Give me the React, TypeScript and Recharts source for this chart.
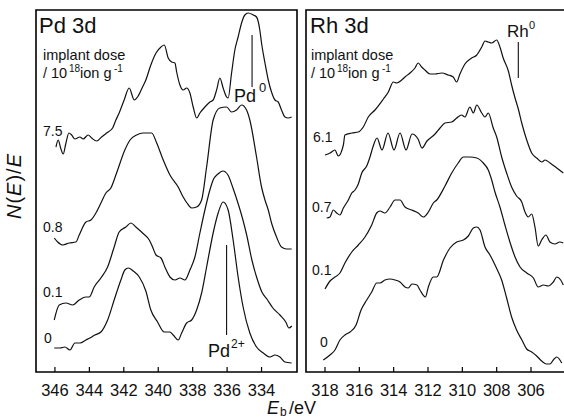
import React from "react";
import { LineChart, Line, XAxis, YAxis, ReferenceArea, ReferenceLine } from "recharts";

// ---- Pd 3d panel: [binding energy eV, N(E)/E arbitrary units] ----
const pdTicks = [346, 344, 342, 340, 338, 336, 334];
const pdDose = ["7.5", "0.8", "0.1", "0"];

const pd75: [number, number][] = [
  [345.94, 225], [345.81, 232], [345.67, 224], [345.52, 218], [345.36, 229], [345.19, 239], [345.03, 237],
  [344.84, 233], [344.55, 235], [344.36, 233], [344.07, 237], [343.87, 234], [343.58, 231], [343.29, 235],
  [343.0, 239], [342.65, 244], [342.46, 252], [342.27, 259], [341.98, 272], [341.69, 284], [341.39, 272],
  [341.2, 275], [340.91, 285], [340.72, 292], [340.43, 307], [340.13, 319], [339.84, 325], [339.65, 327],
  [339.42, 314], [339.22, 310], [339.03, 309], [338.93, 300], [338.74, 287], [338.55, 282], [338.35, 284],
  [338.16, 279], [337.97, 265], [337.77, 254], [337.58, 259], [337.29, 265], [337.0, 270], [336.81, 272],
  [336.61, 282], [336.42, 294], [336.23, 284], [336.03, 275], [335.94, 274], [335.74, 299], [335.55, 322],
  [335.36, 335], [335.16, 349], [334.97, 357], [334.77, 359], [334.48, 357], [334.29, 355], [334.1, 342],
  [334.0, 329], [333.8, 309], [333.61, 292], [333.42, 280], [333.22, 272], [333.03, 270], [332.84, 262],
  [332.64, 255], [332.45, 254], [332.25, 255],
];
const pd08: [number, number][] = [
  [346.04, 134], [345.84, 130], [345.55, 127], [345.17, 129], [344.78, 130], [344.59, 137], [344.2, 150],
  [343.91, 152], [343.62, 159], [343.33, 169], [343.04, 179], [342.75, 184], [342.42, 199], [341.94, 222],
  [341.64, 232], [341.26, 237], [340.87, 239], [340.38, 239], [340.09, 229], [339.71, 212], [339.32, 197],
  [338.84, 185], [338.55, 175], [338.33, 169], [338.06, 164], [337.77, 165], [337.48, 172], [337.19, 205],
  [336.81, 252], [336.42, 264], [336.03, 265], [335.74, 260], [335.45, 262], [335.16, 267], [334.87, 262],
  [334.68, 252], [334.29, 215], [334.0, 185], [333.8, 172], [333.61, 162], [333.42, 149], [333.13, 135],
  [332.84, 125], [332.54, 123], [332.25, 123],
];
const pd01: [number, number][] = [
  [346.04, 52], [345.75, 67], [345.36, 69], [344.97, 67], [344.59, 72], [344.2, 75], [344.01, 75],
  [343.72, 85], [343.33, 94], [342.94, 105], [342.56, 125], [342.27, 140], [341.88, 145], [341.59, 149],
  [341.3, 145], [340.91, 139], [340.52, 132], [340.33, 125], [340.13, 117], [339.84, 114], [339.59, 104],
  [339.32, 95], [339.03, 92], [338.74, 94], [338.45, 92], [338.16, 102], [337.87, 115], [337.58, 139],
  [337.29, 162], [337.0, 182], [336.81, 192], [336.53, 198], [336.24, 201], [335.95, 197], [335.66, 184],
  [335.37, 169], [335.08, 152], [334.85, 136], [334.56, 112], [334.27, 94], [333.98, 80], [333.69, 73],
  [333.34, 64], [332.93, 57], [332.59, 50], [332.41, 44], [332.24, 46],
];
const pd0: [number, number][] = [
  [346.04, 24], [345.71, 24], [345.42, 25], [345.13, 22], [344.84, 29], [344.55, 29], [344.2, 32],
  [343.97, 34], [343.68, 37], [343.33, 40], [342.94, 52], [342.56, 72], [342.17, 92], [341.94, 102],
  [341.74, 104], [341.45, 101], [341.1, 95], [340.72, 81], [340.43, 62], [340.04, 50], [339.65, 40],
  [339.32, 40], [339.13, 37], [338.84, 32], [338.64, 39], [338.35, 49], [338.06, 52], [337.77, 62],
  [337.48, 79], [337.19, 105], [336.81, 139], [336.52, 159], [336.23, 170], [335.94, 162], [335.65, 132],
  [335.36, 95], [335.07, 65], [334.68, 39], [334.29, 25], [333.9, 19], [333.51, 15], [333.22, 17],
  [332.93, 15], [332.64, 10], [332.25, 9],
];

// ---- Rh 3d panel ----
const rhTicks = [318, 316, 314, 312, 310, 308, 306];
const rhDose = ["6.1", "0.7", "0.1", "0"];

const rh61: [number, number][] = [
  [318.0, 217], [317.71, 219], [317.42, 222], [317.23, 216], [316.93, 227], [316.84, 237], [316.44, 239],
  [316.06, 240], [315.77, 245], [315.48, 255], [315.09, 262], [314.6, 273], [314.31, 280], [314.02, 290],
  [313.82, 289], [313.53, 292], [313.34, 295], [313.05, 299], [312.76, 304], [312.57, 309], [312.37, 305],
  [312.18, 302], [311.88, 298], [311.59, 298], [311.2, 299], [310.82, 297], [310.53, 295], [310.33, 290],
  [310.14, 298], [309.85, 308], [309.46, 314], [309.16, 317], [308.87, 325], [308.68, 331], [308.49, 330],
  [308.29, 329], [308.0, 332], [307.81, 325], [307.62, 314], [307.32, 301], [307.13, 287], [306.93, 274],
  [306.74, 263], [306.54, 249], [306.25, 232], [305.96, 219], [305.67, 214], [305.37, 210], [305.18, 212],
  [304.89, 209], [304.5, 204], [304.12, 199],
];
const rh07: [number, number][] = [
  [317.9, 154], [317.71, 155], [317.52, 162], [317.32, 159], [317.13, 157], [316.93, 164], [316.64, 172],
  [316.44, 179], [316.25, 182], [316.06, 188], [315.86, 199], [315.57, 206], [315.38, 215], [315.19, 226],
  [314.97, 234], [314.68, 222], [314.33, 239], [313.98, 222], [313.63, 239], [313.28, 222], [312.93, 238],
  [312.58, 233], [312.35, 224], [312.06, 231], [311.59, 238], [311.3, 244], [311.01, 249], [310.62, 250],
  [310.33, 254], [310.04, 257], [309.85, 255], [309.56, 265], [309.36, 259], [309.16, 267], [308.87, 259],
  [308.68, 255], [308.49, 259], [308.2, 244], [308.0, 235], [307.71, 215], [307.42, 199], [307.13, 185],
  [306.84, 176], [306.54, 170], [306.35, 160], [306.16, 155], [305.96, 158], [305.77, 145], [305.58, 126],
  [305.38, 132], [305.13, 137], [304.9, 130], [304.61, 128], [304.32, 130], [304.12, 129],
];
const rh01: [number, number][] = [
  [318.0, 83], [317.71, 91], [317.42, 95], [317.13, 99], [316.84, 109], [316.44, 120], [316.06, 127],
  [315.67, 135], [315.28, 147], [314.99, 159], [314.8, 161], [314.51, 159], [314.21, 165], [313.92, 172],
  [313.63, 172], [313.34, 165], [312.95, 162], [312.57, 159], [312.27, 155], [311.98, 160], [311.69, 169],
  [311.49, 172], [311.01, 186], [310.62, 199], [310.24, 209], [309.94, 215], [309.56, 215], [309.16, 214],
  [308.78, 209], [308.49, 202], [308.29, 192], [308.1, 180], [307.81, 165], [307.52, 147], [307.23, 130],
  [306.93, 115], [306.64, 105], [306.25, 99], [305.86, 94], [305.58, 85], [305.28, 87], [304.99, 86],
  [304.7, 90], [304.5, 95], [304.27, 92], [304.12, 87],
];
const rh0: [number, number][] = [
  [318.1, 12], [317.71, 17], [317.42, 22], [317.13, 32], [316.84, 37], [316.54, 40], [316.19, 47],
  [315.9, 62], [315.57, 72], [315.28, 80], [314.99, 89], [314.8, 89], [314.51, 92], [314.21, 93],
  [313.92, 92], [313.63, 90], [313.34, 85], [313.15, 84], [312.93, 88], [312.64, 87], [312.47, 82],
  [312.15, 75], [311.98, 85], [311.69, 95], [311.49, 95], [311.1, 112], [310.72, 124], [310.33, 130],
  [309.94, 132], [309.65, 136], [309.36, 144], [309.16, 145], [308.97, 142], [308.68, 125], [308.39, 117],
  [308.04, 105], [307.71, 92], [307.42, 74], [307.13, 55], [306.84, 42], [306.53, 32], [306.25, 23],
  [305.96, 20], [305.67, 16], [305.38, 11], [305.09, 8], [304.9, 8], [304.7, 12], [304.5, 15], [304.21, 9],
];

const Y_MAX = 362;
const FONT = "'Liberation Sans', Arial, Helvetica, sans-serif";
const INK = "#111";

const rows = (pts: [number, number][]) => pts.map(([e, v]) => ({ e, v }));

const Tick = (props: any) => {
  const { x, y, payload } = props;
  return (
    <g>
      <line x1={x} x2={x} y1={y} y2={y - 5} stroke="#000" strokeWidth={1.2} />
      <text x={x} y={y + 24} textAnchor="middle" fontSize={16.5} fontFamily={FONT} fill={INK}>
        {payload.value}
      </text>
    </g>
  );
};

type PanelProps = {
  left: number;
  width: number;
  margin: { top: number; right: number; bottom: number; left: number };
  domain: [number, number];
  ticks: number[];
  series: [number, number][][];
  marks: { x: number; y1: number; y2: number }[];
};

const Panel = ({ left, width, margin, domain, ticks, series, marks }: PanelProps) => (
  <div style={{ position: "absolute", left, top: 0 }}>
    <LineChart width={width} height={420} margin={margin}>
      <XAxis
        type="number"
        dataKey="e"
        domain={domain}
        reversed
        allowDataOverflow
        ticks={ticks}
        interval={0}
        axisLine={false}
        tickLine={false}
        tickSize={0}
        tickMargin={0}
        height={30}
        tick={<Tick />}
      />
      <YAxis type="number" domain={[0, Y_MAX]} hide allowDataOverflow />
      <ReferenceArea
        x1={domain[0]}
        x2={domain[1]}
        y1={0}
        y2={Y_MAX}
        fill="none"
        stroke="#000"
        strokeWidth={1.6}
        ifOverflow="visible"
      />
      {marks.map((m, i) => (
        <ReferenceLine
          key={i}
          segment={[{ x: m.x, y: m.y1 }, { x: m.x, y: m.y2 }]}
          stroke={INK}
          strokeWidth={1.1}
          ifOverflow="visible"
        />
      ))}
      {series.map((s, i) => (
        <Line
          key={i}
          data={rows(s)}
          dataKey="v"
          type="monotone"
          dot={false}
          stroke={INK}
          strokeWidth={1.2}
          isAnimationActive={false}
        />
      ))}
    </LineChart>
  </div>
);

const T = (p: any) => <text fontFamily={FONT} fill={INK} {...p} />;

const DoseUnit = ({ x }: { x: number }) => (
  <>
    <T x={x} y={60} fontSize={14.5}>implant dose</T>
    <T x={x} y={78} fontSize={14.5}>/ 10</T>
    <T x={x + 26} y={72} fontSize={10}>18</T>
    <T x={x + 37} y={78} fontSize={14.5}>ion g</T>
    <T x={x + 71} y={72} fontSize={10}>-1</T>
  </>
);

export default function App() {
  return (
    <div
      style={{
        position: "absolute",
        left: 0,
        top: 0,
        width: 564,
        height: 420,
        overflow: "hidden",
        background: "#fff",
      }}
    >
      <Panel
        left={0}
        width={300}
        margin={{ top: 10, right: 3, bottom: 18, left: 36 }}
        domain={[331.94, 347.1]}
        ticks={pdTicks}
        series={[pd75, pd08, pd01, pd0]}
        marks={[
          { x: 334.55, y1: 337, y2: 285 },
          { x: 336.03, y1: 127, y2: 37 },
        ]}
      />
      <Panel
        left={300}
        width={266}
        margin={{ top: 10, right: 1, bottom: 18, left: 6 }}
        domain={[304.02, 319.107]}
        ticks={rhTicks}
        series={[rh61, rh07, rh01, rh0]}
        marks={[{ x: 306.74, y1: 330, y2: 294 }]}
      />
      <svg
        width={564}
        height={420}
        style={{ position: "absolute", left: 0, top: 0, pointerEvents: "none" }}
      >
        {/* Pd panel texts */}
        <T x={39} y={33} fontSize={22}>Pd 3d</T>
        <DoseUnit x={43} />
        <T x={43} y={136} fontSize={14}>{pdDose[0]}</T>
        <T x={43} y={232} fontSize={14}>{pdDose[1]}</T>
        <T x={43} y={297} fontSize={14}>{pdDose[2]}</T>
        <T x={44} y={343} fontSize={14}>{pdDose[3]}</T>
        <T x={234} y={102} fontSize={18}>Pd</T>
        <T x={259} y={92} fontSize={13}>0</T>
        <T x={208} y={357} fontSize={18}>Pd</T>
        <T x={231} y={348} fontSize={12}>2+</T>

        {/* Rh panel texts */}
        <T x={310} y={33} fontSize={22}>Rh 3d</T>
        <DoseUnit x={311} />
        <T x={313} y={142} fontSize={14}>{rhDose[0]}</T>
        <T x={312} y={212} fontSize={14}>{rhDose[1]}</T>
        <T x={312} y={275} fontSize={14}>{rhDose[2]}</T>
        <T x={320} y={347} fontSize={14}>{rhDose[3]}</T>
        <T x={507} y={37} fontSize={17}>Rh</T>
        <T x={529} y={29} fontSize={11}>0</T>

        {/* axis titles */}
        <T x={21} y={186} fontSize={20} textAnchor="middle" transform="rotate(-90 21 186)" letterSpacing={1}>
          <tspan fontStyle="italic">N</tspan>(<tspan fontStyle="italic">E</tspan>)/<tspan fontStyle="italic">E</tspan>
        </T>
        <T x={267} y={414} fontSize={18} fontStyle="italic">E</T>
        <T x={280} y={416} fontSize={12}>b</T>
        <T x={289} y={414} fontSize={18}>/eV</T>
      </svg>
    </div>
  );
}
